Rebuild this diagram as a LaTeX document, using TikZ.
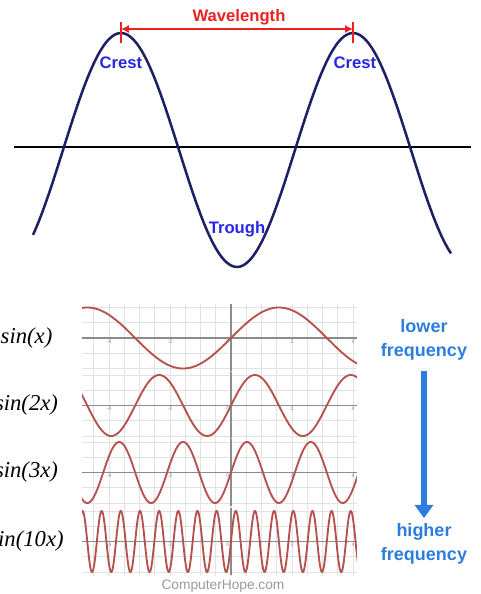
\documentclass[tikz,border=0pt]{standalone}
\usepackage{fontspec}
\setmainfont{Liberation Serif}
\setsansfont{Liberation Sans}
\usetikzlibrary{
    arrows.meta,  % For arrow tips
    positioning   % For label positioning
}
\definecolor{wavenavy}{HTML}{1E2066}
\definecolor{crestblue}{HTML}{2626E4}
\definecolor{lambdared}{HTML}{EE2020}
\definecolor{freqblue}{HTML}{2C7DE0}
\definecolor{sinered}{HTML}{B5524E}
\definecolor{gridgray}{HTML}{E2E2E2}
\definecolor{axisgray}{HTML}{8C8C8C}

\begin{document}
\begin{tikzpicture}[
    x=0.75pt, y=-0.75pt, % one unit = one pixel, y downwards
    >=Latex, % Set default arrow tip style
    wave/.style={line width=1.9pt, wavenavy}, % Style for the big wave
    restline/.style={line width=2.2pt, black},
    marker/.style={line width=1.2pt, lambdared},
    wavelabel/.style={crestblue, font=\sffamily\bfseries\fontsize{12.5}{14}\selectfont},
    lambdalabel/.style={lambdared, font=\sffamily\bfseries\fontsize{12.5}{14}\selectfont},
    funclabel/.style={font=\itshape\fontsize{17}{20}\selectfont},
    ticklabel/.style={axisgray, font=\sffamily\fontsize{4}{5}\selectfont, inner sep=1pt},
    freqlabel/.style={freqblue, align=center, inner sep=0pt,
        font=\sffamily\bfseries\fontsize{13.5}{18}\selectfont},
    freqarrow/.style={freqblue, line width=5.2pt,
        -{Triangle[width=13.5pt, length=10pt]}}
    ]

    % Page frame
    \useasboundingbox (0,0) rectangle (480,594);
    \clip (0,0) rectangle (480,594);

    % Rest line and big wave (period 232px)
    \draw[restline] (14,147) -- (471,147);
    \draw[wave] plot[domain=33:451, samples=150, smooth]
        (\x, {150-117*cos(1.55172*(\x-121))});

    % Wavelength marker between the two crests
    \coordinate (crestL) at (121,29);
    \coordinate (crestR) at (353,29);
    \draw[marker] (crestL) ++(0,-7) -- ++(0,21);
    \draw[marker] (crestR) ++(0,-7) -- ++(0,21);
    \draw[marker, line width=0.9pt, {Latex[length=6pt,width=6pt]}-{Latex[length=6pt,width=6pt]}]
        (crestL) -- (crestR);
    \node[lambdalabel] (lambda) at (239,17) {Wavelength};

    % Crest and trough labels
    \node[wavelabel] (crest1) at (121,63) {Crest};
    \node[wavelabel] (crest2) at (355,63) {Crest};
    \node[wavelabel] (trough) at (237,229) {Trough};

    % Four sine panels, 30.5px per unit, origin at x=231
    \foreach \k/\ay/\lbl in {1/338/{sin(x)}, 2/405.5/{sin(2x)},
                             3/472.5/{sin(3x)}, 10/541.5/{sin(10x)}}{
        \node[funclabel] (func\k) at (26.5,\ay) {\lbl};
        \begin{scope}[shift={(231,\ay)}, x=22.875pt, y=22.875pt]
            \begin{scope}
                \clip (-4.885,-1.1) rectangle (4.13,1.1);
                \draw[gridgray, line width=0.5pt] (-5,-1.5) grid[step=0.5] (4.5,1.5);
                \draw[axisgray, line width=1.1pt] (-4.885,0) -- (4.13,0);
                \draw[axisgray, line width=1.1pt] (0,-1.1) -- (0,1.1);
                \draw[sinered, line width=1.4pt] plot[domain=-4.95:4.2, samples=700]
                    (\x, {sin(\k*\x r)});
            \end{scope}
            \foreach \t in {-4,-2,2,4}
                \node[ticklabel, below] (tick\k\t) at (\t,0) {\t};
            \node[ticklabel, below left] (zero\k) at (0,0) {0};
        \end{scope}
    }

    % Frequency arrow
    \node[freqlabel] (low) at (424,340) {lower\\frequency};
    \node[freqlabel] (high) at (424,543.5) {higher\\frequency};
    \draw[freqarrow, shorten <=7.5pt, shorten >=3.5pt] (low.south) -- (high.north);

    % Credit line
    \node[gray!80, font=\sffamily\fontsize{10.3}{12}\selectfont] (credit) at (223,586)
        {ComputerHope.com};

\end{tikzpicture}
\end{document}
